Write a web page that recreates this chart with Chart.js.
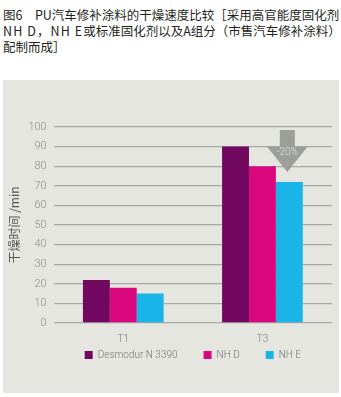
<!DOCTYPE html>
<html>
<head>
<meta charset="utf-8">
<script src="https://cdn.jsdelivr.net/npm/chart.js@4"></script>
<style>
  html, body { margin: 0; padding: 0; background: #ffffff; }
  body { width: 341px; height: 397px; position: relative; overflow: hidden; }
  #titulo {
    position: absolute; left: 3px; top: 7px;
    font-family: "Noto Sans CJK SC", sans-serif; font-size: 12.5px;
    line-height: 16px; color: #231f20; white-space: nowrap;
  }
  #titulo .lat { letter-spacing: 1.1px; }
  #painel {
    position: absolute; left: 3px; top: 80px; width: 336px; height: 313px;
    background: #e6e6e1;
  }
</style>
</head>
<body>
<div id="titulo">图6　PU汽车修补涂料的干燥速度比较［采用高官能度固化剂<br><span class="lat">NH D，NH E</span>或标准固化剂以及A组分（市售汽车修补涂料）<br>配制而成］</div>
<div id="painel"><canvas id="graficoSecagem"></canvas></div>
<script>
// Dados do gráfico (tempo de secagem em minutos)
const categorias = ["T1", "T3"];
const desmodur = [22, 90];
const nhD = [18, 80];
const nhE = [15, 72];
const yTicks = [0, 10, 20, 30, 40, 50, 60, 70, 80, 90, 100];

// Seta cinza com a redução percentual sobre o grupo T3
const setaReducao = {
  id: "setaReducao",
  afterDatasetsDraw(chart) {
    const ctx = chart.ctx;
    const y = chart.scales.y;
    const barra = chart.getDatasetMeta(2).data[1];
    const cx = barra.x - 2;
    const topo = y.getPixelForValue(98.5);
    const pescoco = y.getPixelForValue(89.8);
    const ponta = y.getPixelForValue(77);
    ctx.save();
    ctx.fillStyle = "#9c9e9a";
    ctx.beginPath();
    ctx.moveTo(cx - 7.5, topo);
    ctx.lineTo(cx + 7.5, topo);
    ctx.lineTo(cx + 7.5, pescoco);
    ctx.lineTo(cx + 20, pescoco);
    ctx.lineTo(cx, ponta);
    ctx.lineTo(cx - 20, pescoco);
    ctx.lineTo(cx - 7.5, pescoco);
    ctx.closePath();
    ctx.fill();
    // texto calculado a partir dos próprios valores
    const pct = Math.round((nhE[1] / desmodur[1] - 1) * 100);
    ctx.fillStyle = "#e2e2df";
    ctx.font = "300 10px Roboto";
    ctx.textAlign = "center";
    ctx.textBaseline = "middle";
    ctx.fillText(pct + "%", cx, pescoco + 6);
    ctx.restore();
  }
};

// A legenda usa padding largo entre itens; sobe ela para perto dos rótulos T1/T3
const subirLegenda = {
  id: "subirLegenda",
  afterLayout(chart) {
    chart.legend.top -= 21;
    chart.legend.bottom -= 21;
  }
};

const ctx2d = document.getElementById("graficoSecagem").getContext("2d");
new Chart(ctx2d, {
  type: "bar",
  data: {
    labels: categorias,
    datasets: [
      { label: "Desmodur N 3390", data: desmodur, backgroundColor: "#71075f" },
      { label: "NH D", data: nhD, backgroundColor: "#d9087f" },
      { label: "NH E", data: nhE, backgroundColor: "#1ab5e8" }
    ]
  },
  options: {
    responsive: true,
    maintainAspectRatio: false,
    animation: false,
    datasets: {
      bar: { barPercentage: 1, categoryPercentage: 0.58 }
    },
    layout: { padding: { top: 47, right: 7, bottom: 2, left: 4 } },
    scales: {
      x: {
        grid: { display: false, drawTicks: false },
        border: { display: false },
        ticks: {
          color: "#7a7a7a",
          padding: 10,
          font: { family: "Roboto", size: 10, weight: "300" }
        },
        afterFit: (scale) => { scale.height = 22; }
      },
      y: {
        min: 0,
        max: 100,
        afterBuildTicks: (scale) => { scale.ticks = yTicks.map(v => ({ value: v })); },
        border: { display: false },
        grid: { color: "#a8a8a4", lineWidth: 1.3, drawTicks: false },
        ticks: {
          color: "#8c8c8c",
          padding: 7,
          font: { family: "Roboto", size: 11, weight: "300" }
        },
        title: {
          display: true,
          text: "干燥时间 /min",
          color: "#555555",
          padding: { top: 0, bottom: 0 },
          font: { family: "Noto Sans CJK SC", size: 12 }
        }
      }
    },
    plugins: {
      tooltip: { enabled: false },
      legend: {
        position: "bottom",
        fullSize: false,
        labels: {
          boxWidth: 8,
          boxHeight: 8,
          padding: 26,
          color: "#777777",
          font: { family: "Roboto", size: 10, weight: "300" }
        }
      }
    }
  },
  plugins: [setaReducao, subirLegenda]
});
</script>
</body>
</html>
